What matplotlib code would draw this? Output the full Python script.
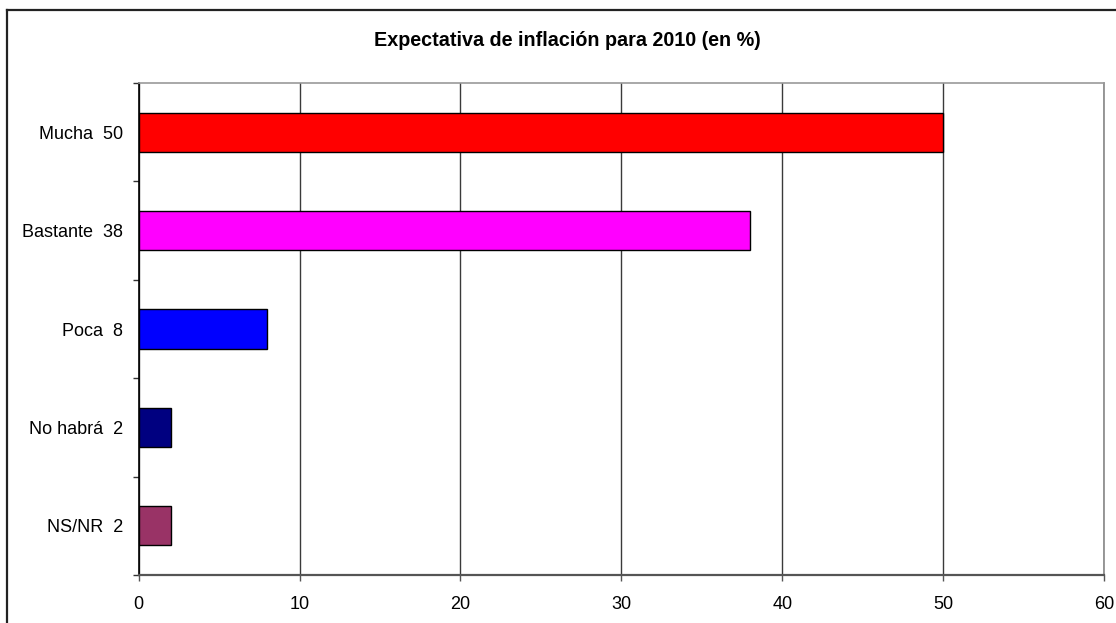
import matplotlib
matplotlib.use("Agg")
import matplotlib.pyplot as plt
from matplotlib.lines import Line2D
import numpy as np

categories = ["Mucha", "Bastante", "Poca", "No habrá", "NS/NR"]
values = [50, 38, 8, 2, 2]
colors = ["#FF0000", "#FF00FF", "#0000FF", "#000080", "#993366"]
xticks = [0, 10, 20, 30, 40, 50, 60]
title = "Expectativa de inflación para 2010 (en %)"

plt.rcParams['font.family'] = ['Liberation Sans', 'DejaVu Sans']

fig = plt.figure(figsize=(11.16, 6.23), dpi=100)
ax = fig.add_axes([138.7/1116, 1-575/623, (1104-138.7)/1116, (575-83)/623])

n = len(categories)
ypos = np.arange(n)
ax.barh(ypos, values, height=0.4, color=colors, edgecolor="black", linewidth=1, zorder=3)
ax.set_ylim(n - 0.5, -0.5)
ax.set_xlim(0, 60)

labels = [f"{c}  {v}" for c, v in zip(categories, values)]
ax.set_yticks(ypos)
ax.set_yticklabels(labels, fontsize=13)
ax.set_yticks(np.arange(-0.5, n, 1.0), minor=True)
ax.tick_params(axis='y', which='major', length=0, pad=11)
ax.tick_params(axis='y', which='minor', length=4.3, width=1, color='#333333', direction='out')

ax.set_xticks(xticks)
ax.set_xticklabels([str(t) for t in xticks], fontsize=13)
ax.tick_params(axis='x', which='major', length=4.3, width=1, color='#555555', direction='out', pad=10.5)

ax.grid(axis='x', color='#3a3a3a', linewidth=1, zorder=0)
ax.set_axisbelow(True)

ax.spines['left'].set_color('black')
ax.spines['left'].set_linewidth(1.2)
ax.spines['bottom'].set_color('#555555')
ax.spines['bottom'].set_linewidth(1.6)
ax.spines['top'].set_color('#999999')
ax.spines['top'].set_linewidth(1.2)
ax.spines['right'].set_color('#888888')
ax.spines['right'].set_linewidth(1.2)

fig.text(0.5 * (374 + 760) / 1116, 1 - 41/623, title, ha='center', va='center',
         fontsize=14.2, fontweight='bold')

# outer frame (top and left edges visible)
fig.add_artist(Line2D([7/1116, 1.0], [1 - 10/623, 1 - 10/623], transform=fig.transFigure,
                      color='#222222', linewidth=1.6))
fig.add_artist(Line2D([7/1116, 7/1116], [0.0, 1 - 10/623], transform=fig.transFigure,
                      color='#222222', linewidth=1.6))

fig.savefig("out.png", dpi=100)
